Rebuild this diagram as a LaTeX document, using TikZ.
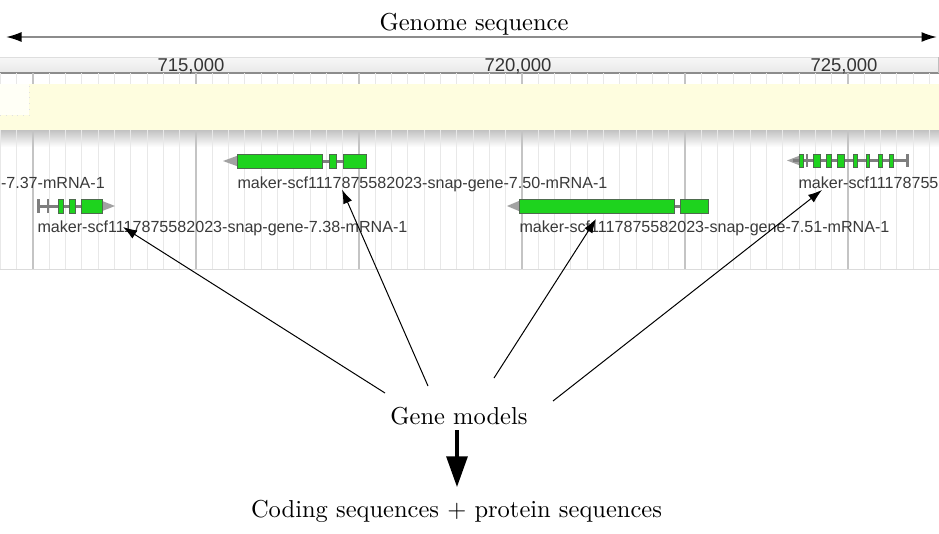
\documentclass[tikz,border=0pt]{standalone}
\usepackage{fontspec}
\newfontfamily\gfont{Liberation Sans}
\usetikzlibrary{arrows.meta}
\definecolor{trackyellow}{HTML}{FEFDDF}
\definecolor{boxwhite}{HTML}{FFFFF6}
\definecolor{exongreen}{HTML}{1ED31E}
\definecolor{exonedge}{HTML}{4E6A4E}
\definecolor{introngray}{HTML}{7E7E7E}
\definecolor{tipgray}{HTML}{A2A2A2}
\definecolor{labgray}{HTML}{3A3A3A}
\definecolor{minorgrid}{HTML}{E8E8E8}
\definecolor{majorgrid}{HTML}{C4C4C4}
\tikzset{
  lm/.style={font=\fontsize{9.8}{12}\selectfont, inner sep=0pt},
  glab/.style={font=\gfont\fontsize{6.44}{7.5}\selectfont, text=labgray, inner sep=0pt},
  rlab/.style={font=\gfont\fontsize{7.4}{8.5}\selectfont, text=labgray!90!black, inner sep=0pt},
  exon/.style={fill=exongreen, draw=exonedge, line width=0.4pt},
  utr/.style={fill=introngray, draw=none},
  intron/.style={draw=introngray, line width=1.2pt},
  gtip/.style={fill=tipgray, draw=none},
  thinarrow/.style={draw=black, line width=0.4pt, -{Latex[length=5.6pt,width=3.8pt]}},
  bigarrow/.style={draw=black, line width=1.3pt, -{Triangle[length=12.3pt,width=8.4pt]}},
  genomearrow/.style={draw=black!45, line width=0.7pt, {Latex[length=6.2pt,width=4pt,color=black]}-{Latex[length=6.2pt,width=4pt,color=black]}}
}
\begin{document}
\begin{tikzpicture}[x=0.4pt,y=-0.4pt]
\useasboundingbox[fill=white] (0,0) rectangle (939,533);

% ---------- genome sequence arrow ----------
\node[lm, anchor=base] (genome) at (474,30) {Genome sequence};
\coordinate (gl) at (6,37);
\coordinate (gr) at (937,37);
\draw[genomearrow] (gl) -- (gr);

% ---------- ruler band ----------
\shade[top color=black!3, bottom color=black!9] (0,57) rectangle (939,73);
\draw[black!13, line width=0.4pt] (0,57) -- (939,57);
\draw[black!45, line width=0.5pt] (0,73) -- (939,73);
\draw[black!25, line width=0.4pt] (938.5,57) -- (938.5,73);
\node[rlab, anchor=base] (r715) at (191,71) {715,000};
\node[rlab, anchor=base] (r720) at (518,71) {720,000};
\node[rlab, anchor=base] (r725) at (844,71) {725,000};

% ---------- yellow track and shadow ----------
\fill[trackyellow] (0,84) rectangle (939,130);
\fill[boxwhite] (0,84) rectangle (29,115);
\draw[black!12, dotted, line width=0.3pt] (0,115) -- (29,115) -- (29,84);
\shade[top color=black!24, bottom color=white] (0,130) rectangle (939,147);

% ---------- grid lines ----------
\foreach \k in {-2,...,55}{
  \pgfmathsetmacro\xx{33+16.3*\k}
  \pgfmathtruncatemacro\mm{mod(\k+20,10)}
  \ifnum\mm=0
    \draw[majorgrid, line width=0.45pt] (\xx,73) -- (\xx,84) (\xx,130) -- (\xx,269);
  \else
    \draw[minorgrid, line width=0.4pt] (\xx,73) -- (\xx,84) (\xx,130) -- (\xx,269);
  \fi
}
\draw[black!14, line width=0.4pt] (0,269) -- (939,269);

% ---------- gene 7.37 (label only) ----------
\node[glab, anchor=base west] (l37) at (0.5,188) {-7.37-mRNA-1};

% ---------- gene 7.50 ----------
\fill[gtip] (223,161) -- (238,155.5) -- (238,166.5) -- cycle;
\draw[intron] (237,161) -- (366,161);
\foreach \a/\b in {237/322,329/336,343/366}
  \draw[exon] (\a,154) rectangle (\b,168);
\node[glab, anchor=base west] (l50) at (237,188) {maker-scf1117875582023-snap-gene-7.50-mRNA-1};

% ---------- gene 7.38 ----------
\fill[gtip] (115,206) -- (101,200.5) -- (101,211.5) -- cycle;
\draw[intron] (37,206) -- (102,206);
\foreach \a/\b in {37/39.5,46.5/49}
  \fill[utr] (\a,199) rectangle (\b,213);
\foreach \a/\b in {58/63.5,69.5/75,81/102}
  \draw[exon] (\a,199) rectangle (\b,213);
\node[glab, anchor=base west] (l38) at (37,232.5) {maker-scf1117875582023-snap-gene-7.38-mRNA-1};

% ---------- gene 7.51 ----------
\fill[gtip] (507,206) -- (520,200.5) -- (520,211.5) -- cycle;
\draw[intron] (519,206) -- (708,206);
\foreach \a/\b in {519/674,680/708}
  \draw[exon] (\a,199) rectangle (\b,213);
\node[glab, anchor=base west] (l51) at (519,232.5) {maker-scf1117875582023-snap-gene-7.51-mRNA-1};

% ---------- right gene ----------
\fill[gtip] (787,160.5) -- (800,155.5) -- (800,165.5) -- cycle;
\draw[intron] (793,160.5) -- (908,160.5);
\foreach \a/\b in {805.5/807.5,905.5/908.5}
  \fill[utr] (\a,154) rectangle (\b,167);
\foreach \a/\b in {799/803.5,813/820,826/831,837/844,853/857,866/869.5,878/882,889/893.5}
  \draw[exon] (\a,154) rectangle (\b,167);
\node[glab, anchor=base west] (lr) at (798,188) {maker-scf11178755};

% ---------- gene models and arrows ----------
\node[lm, anchor=base] (gm) at (459,424) {Gene models};
\coordinate (s1) at (385,393);
\coordinate (s2) at (428,386);
\coordinate (s3) at (494,378);
\coordinate (s4) at (553,401);
\coordinate (t1) at (123,227);
\coordinate (t2) at (342,189.5);
\coordinate (t3) at (596,219);
\coordinate (t4) at (822,190);
\draw[thinarrow] (s1) -- (t1);
\draw[thinarrow] (s2) -- (t2);
\draw[thinarrow] (s3) -- (t3);
\draw[thinarrow] (s4) -- (t4);

\node[lm, anchor=base] (cds) at (456.5,517) {Coding sequences + protein sequences};
\coordinate (a1) at (457,430);
\coordinate (a2) at (457,487);
\draw[bigarrow] (a1) -- (a2);
\end{tikzpicture}
\end{document}
